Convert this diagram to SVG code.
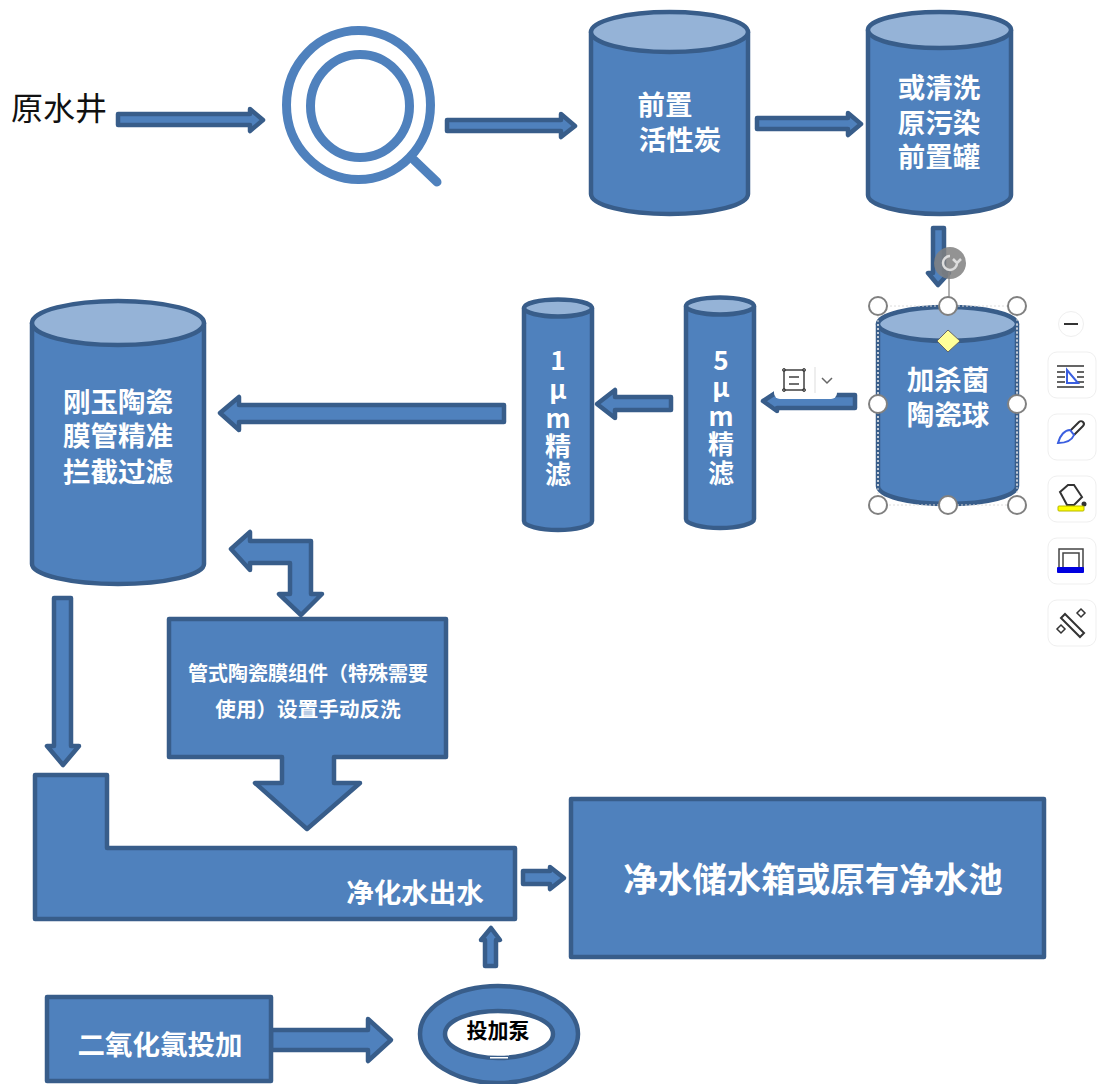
<svg xmlns="http://www.w3.org/2000/svg" width="1097" height="1084" viewBox="0 0 1097 1084">
<style>
.s{fill:#4f81bd;stroke:#385d8a;stroke-width:4.500;stroke-linejoin:round}
.top{fill:#95b3d7;stroke:#385d8a;stroke-width:4.500}
.t{font-family:"Noto Sans CJK SC","Liberation Sans",sans-serif;font-weight:700;fill:#fff;text-anchor:middle}
.h{fill:#fff;stroke:#808080;stroke-width:2}
.card{fill:#fff;stroke:#efefef;stroke-width:1}
.i{fill:none;stroke:#404040;stroke-width:1}
</style>
<rect width="1097" height="1084" fill="#fff"/>
<g id="connectors">
<path class="s" d="M118 114H250V109L263 120L250 131V125H118Z"/>
<path class="s" d="M447 120H561V114L575 126L561 137V131H447Z"/>
<path class="s" d="M757 118H848V113L861 124L848 135V129H757Z"/>
<path class="s" d="M933 228H944V273H949L938 285L928 273H933Z"/>
<path class="s" d="M855 395V408H777V411L763 401L777 392V395Z"/>
<path class="s" d="M671 397V410H615V418L597 404L615 390V397Z"/>
<path class="s" d="M504 405V422H239V430L220 413L239 397V405Z"/>
<path class="s" d="M54 598H71V746H79L63 765L47 746H54Z"/>
<path class="s" d="M231 549L250 532V541H311V594H322L301 615L279 594H290V563H250V570Z"/>
<path class="s" d="M523 871H550V867L564 878L550 889V884H523Z"/>
<path class="s" d="M485 966V940H481L491 928L500 940H496V966Z"/>
<path class="s" d="M271 1030H368V1019L391 1040L368 1061V1050H271Z"/>
</g>
<g id="n-source"><text x="59" y="120" font-family="'Noto Sans CJK SC',sans-serif" font-size="32" text-anchor="middle" fill="#111">原水井</text></g>
<g id="n-lens" fill="none" stroke="#4f81bd" stroke-width="9">
<ellipse cx="358.500" cy="105" rx="72" ry="74.500"/>
<ellipse cx="360" cy="106" rx="49.500" ry="51.500"/>
<path d="M414 160L437 182" stroke-linecap="round"/>
</g>
<g id="n-carbon">
<path class="s" d="M591 32V194C591 205 626 214 669.500 214S748 205 748 194V32Z"/>
<ellipse class="top" cx="669.500" cy="32" rx="78.500" ry="20"/>
<text class="t" font-size="27.500"><tspan x="665" y="115">前置</tspan><tspan x="680" y="150">活性炭</tspan></text>
</g>
<g id="n-tank">
<path class="s" d="M868 30V195C868 205 900 214 939.500 214S1011 205 1011 195V30Z"/>
<ellipse class="top" cx="939.500" cy="30" rx="71.500" ry="18"/>
<text class="t" font-size="27.500"><tspan x="939" y="98">或清洗</tspan><tspan x="939" y="133">原污染</tspan><tspan x="939" y="167">前置罐</tspan></text>
</g>
<g id="n-ball">
<path class="s" d="M878 324V486C878 496 909 504 948 504S1017 496 1017 486V324Z"/>
<ellipse class="top" cx="947.500" cy="324" rx="69.500" ry="17"/>
<text class="t" font-size="27.500"><tspan x="948" y="390">加杀菌</tspan><tspan x="948" y="425">陶瓷球</tspan></text>
</g>
<g id="n-5um">
<path class="s" d="M686 306V519C686 524 702 528 720 528S754 524 754 519V306Z"/>
<ellipse class="top" cx="720" cy="306" rx="34" ry="8.500"/>
<text class="t" font-size="26"><tspan x="721" y="370">5</tspan><tspan x="721" y="397">μ</tspan><tspan x="721" y="426">m</tspan><tspan x="721" y="454">精</tspan><tspan x="721" y="483">滤</tspan></text>
</g>
<g id="n-1um">
<path class="s" d="M524 308V521C524 526 540 530 558 530S592 526 592 521V308Z"/>
<ellipse class="top" cx="558" cy="308" rx="34" ry="8.500"/>
<text class="t" font-size="26"><tspan x="558" y="370">1</tspan><tspan x="558" y="399">μ</tspan><tspan x="558" y="428">m</tspan><tspan x="558" y="456">精</tspan><tspan x="558" y="484">滤</tspan></text>
</g>
<g id="n-membrane">
<path class="s" d="M32 323V564C32 575 71 584 118 584S204 575 204 564V323Z"/>
<ellipse class="top" cx="118" cy="323" rx="86" ry="22"/>
<text class="t" font-size="27.500"><tspan x="118" y="412">刚玉陶瓷</tspan><tspan x="118" y="446">膜管精准</tspan><tspan x="118" y="482">拦截过滤</tspan></text>
</g>
<g id="n-module">
<path class="s" d="M169 619H446V757H334V783H360L307 829L255 783H282V757H169Z"/>
<text class="t" font-size="20"><tspan x="308" y="681">管式陶瓷膜组件（特殊需要</tspan><tspan x="308" y="717" font-size="20.600">使用）设置手动反洗</tspan></text>
</g>
<g id="n-outlet">
<path class="s" d="M35 775H107V848H515V919H35Z"/>
<text class="t" font-size="27.500" x="415" y="903">净化水出水</text>
</g>
<g id="n-store">
<rect class="s" x="571" y="799" width="473" height="158"/>
<text class="t" font-size="34.500" x="813" y="892">净水储水箱或原有净水池</text>
</g>
<g id="n-chlorine">
<rect class="s" x="47" y="997" width="224" height="84"/>
<text class="t" font-size="27.500" x="160" y="1055">二氧化氯投加</text>
</g>
<g id="n-pump">
<path d="M498 986C456 986 420 1007 420 1034S456 1083 498 1083S578 1061 578 1034S541 986 498 986ZM498 1011C525 1011 553 1020 553 1034S525 1058 498 1058S445 1048 445 1034S471 1011 498 1011Z" class="s" fill-rule="evenodd"/>
<path d="M490 1057H508V1058.500H490Z" fill="#fff"/>
<text font-family="'Noto Sans CJK SC',sans-serif" font-weight="700" font-size="21" x="498" y="1038" text-anchor="middle" fill="#000">投加泵</text>
</g>
<g id="ui-selection">
<rect x="878" y="306" width="139" height="199" fill="none" stroke="#dcdcdc" stroke-width="1" stroke-dasharray="2 2"/>
<path d="M878 324V486M1017 324V486" stroke="#fff" stroke-width="1" stroke-dasharray="2 2" fill="none"/>
<path d="M949 272V306" stroke="#999" stroke-width="1.500"/>
<circle cx="950" cy="263" r="16" fill="#808080" fill-opacity=".85"/>
<path d="M957 263A7 7 0 1 1 950 256M957 263L953 259M957 263L961 259" fill="none" stroke="#ddd" stroke-width="2.500"/>
<circle class="h" cx="878" cy="306" r="9"/><circle class="h" cx="948" cy="306" r="9"/><circle class="h" cx="1017" cy="306" r="9"/>
<circle class="h" cx="878" cy="404" r="9"/><circle class="h" cx="1017" cy="404" r="9"/>
<circle class="h" cx="878" cy="505" r="9"/><circle class="h" cx="948" cy="505" r="9"/><circle class="h" cx="1017" cy="505" r="9"/>
<path d="M948 330L960 341L948 352L937 341Z" fill="#ffff99" stroke="#666" stroke-width="1"/>
</g>
<g id="ui-layout">
<rect x="774" y="360" width="63" height="39" rx="6" fill="#fff"/>
<rect x="784" y="370" width="20" height="20" fill="none" stroke="#404040" stroke-width="1.500"/>
<circle cx="784" cy="370" r="1.500" class="i"/><circle cx="804" cy="370" r="1.500" class="i"/><circle cx="784" cy="390" r="1.500" class="i"/><circle cx="804" cy="390" r="1.500" class="i"/>
<path d="M789 377H799M789 384H799" fill="none" stroke="#404040" stroke-width="1.500"/>
<path d="M815 367V393" stroke="#ddd"/>
<path d="M822 378L827 383L832 378" fill="none" stroke="#666" stroke-width="1.500"/>
</g>
<g id="ui-toolbar">
<circle cx="1071" cy="324" r="12.500" class="card"/>
<path d="M1064 324H1078" stroke="#333" stroke-width="2"/>
<rect class="card" x="1048" y="352" width="48" height="46" rx="9"/>
<path d="M1057 366H1084M1057 387H1084M1057 372H1065M1077 372H1084M1057 377H1065M1077 377H1084M1057 382H1065M1077 382H1084" stroke="#333" stroke-width="1.500"/>
<path d="M1067 370V383H1078Z" fill="#fff" stroke="#3b5fe0" stroke-width="2"/>
<rect class="card" x="1048" y="414" width="48" height="46" rx="9"/>
<path d="M1070 431L1079 422A2.500 2.500 0 0 1 1083 426L1074 435" fill="#fff" stroke="#333" stroke-width="2"/>
<path d="M1070 430C1065 430 1060 435 1058 443C1066 443 1072 440 1074 435Z" fill="#fff" stroke="#3b5fe0" stroke-width="2"/>
<rect class="card" x="1048" y="476" width="48" height="46" rx="9"/>
<path d="M1060 492L1068 485H1074L1082 497L1074 505H1067Z" fill="#fff" stroke="#333" stroke-width="2"/>
<circle cx="1084" cy="504" r="2.500" fill="#333"/>
<rect x="1058" y="506" width="26" height="5" rx="1" fill="#ffff00" stroke="#b8b800"/>
<rect class="card" x="1048" y="538" width="48" height="46" rx="9"/>
<path d="M1059 568V549H1083V568M1063 568V553H1079V568" fill="none" stroke="#444" stroke-width="1.500"/>
<rect x="1057" y="567" width="27" height="6" rx="1" fill="#0000e0"/>
<rect class="card" x="1048" y="600" width="48" height="46" rx="9"/>
<path d="M1065 614L1084 633L1080 637L1061 618Z" fill="#fff" stroke="#333" stroke-width="2"/>
<path d="M1081 609L1085 613L1081 617L1077 613ZM1061 625L1065 629L1061 633L1057 629Z" fill="#fff" stroke="#333" stroke-width="1.500"/>
</g>
</svg>
